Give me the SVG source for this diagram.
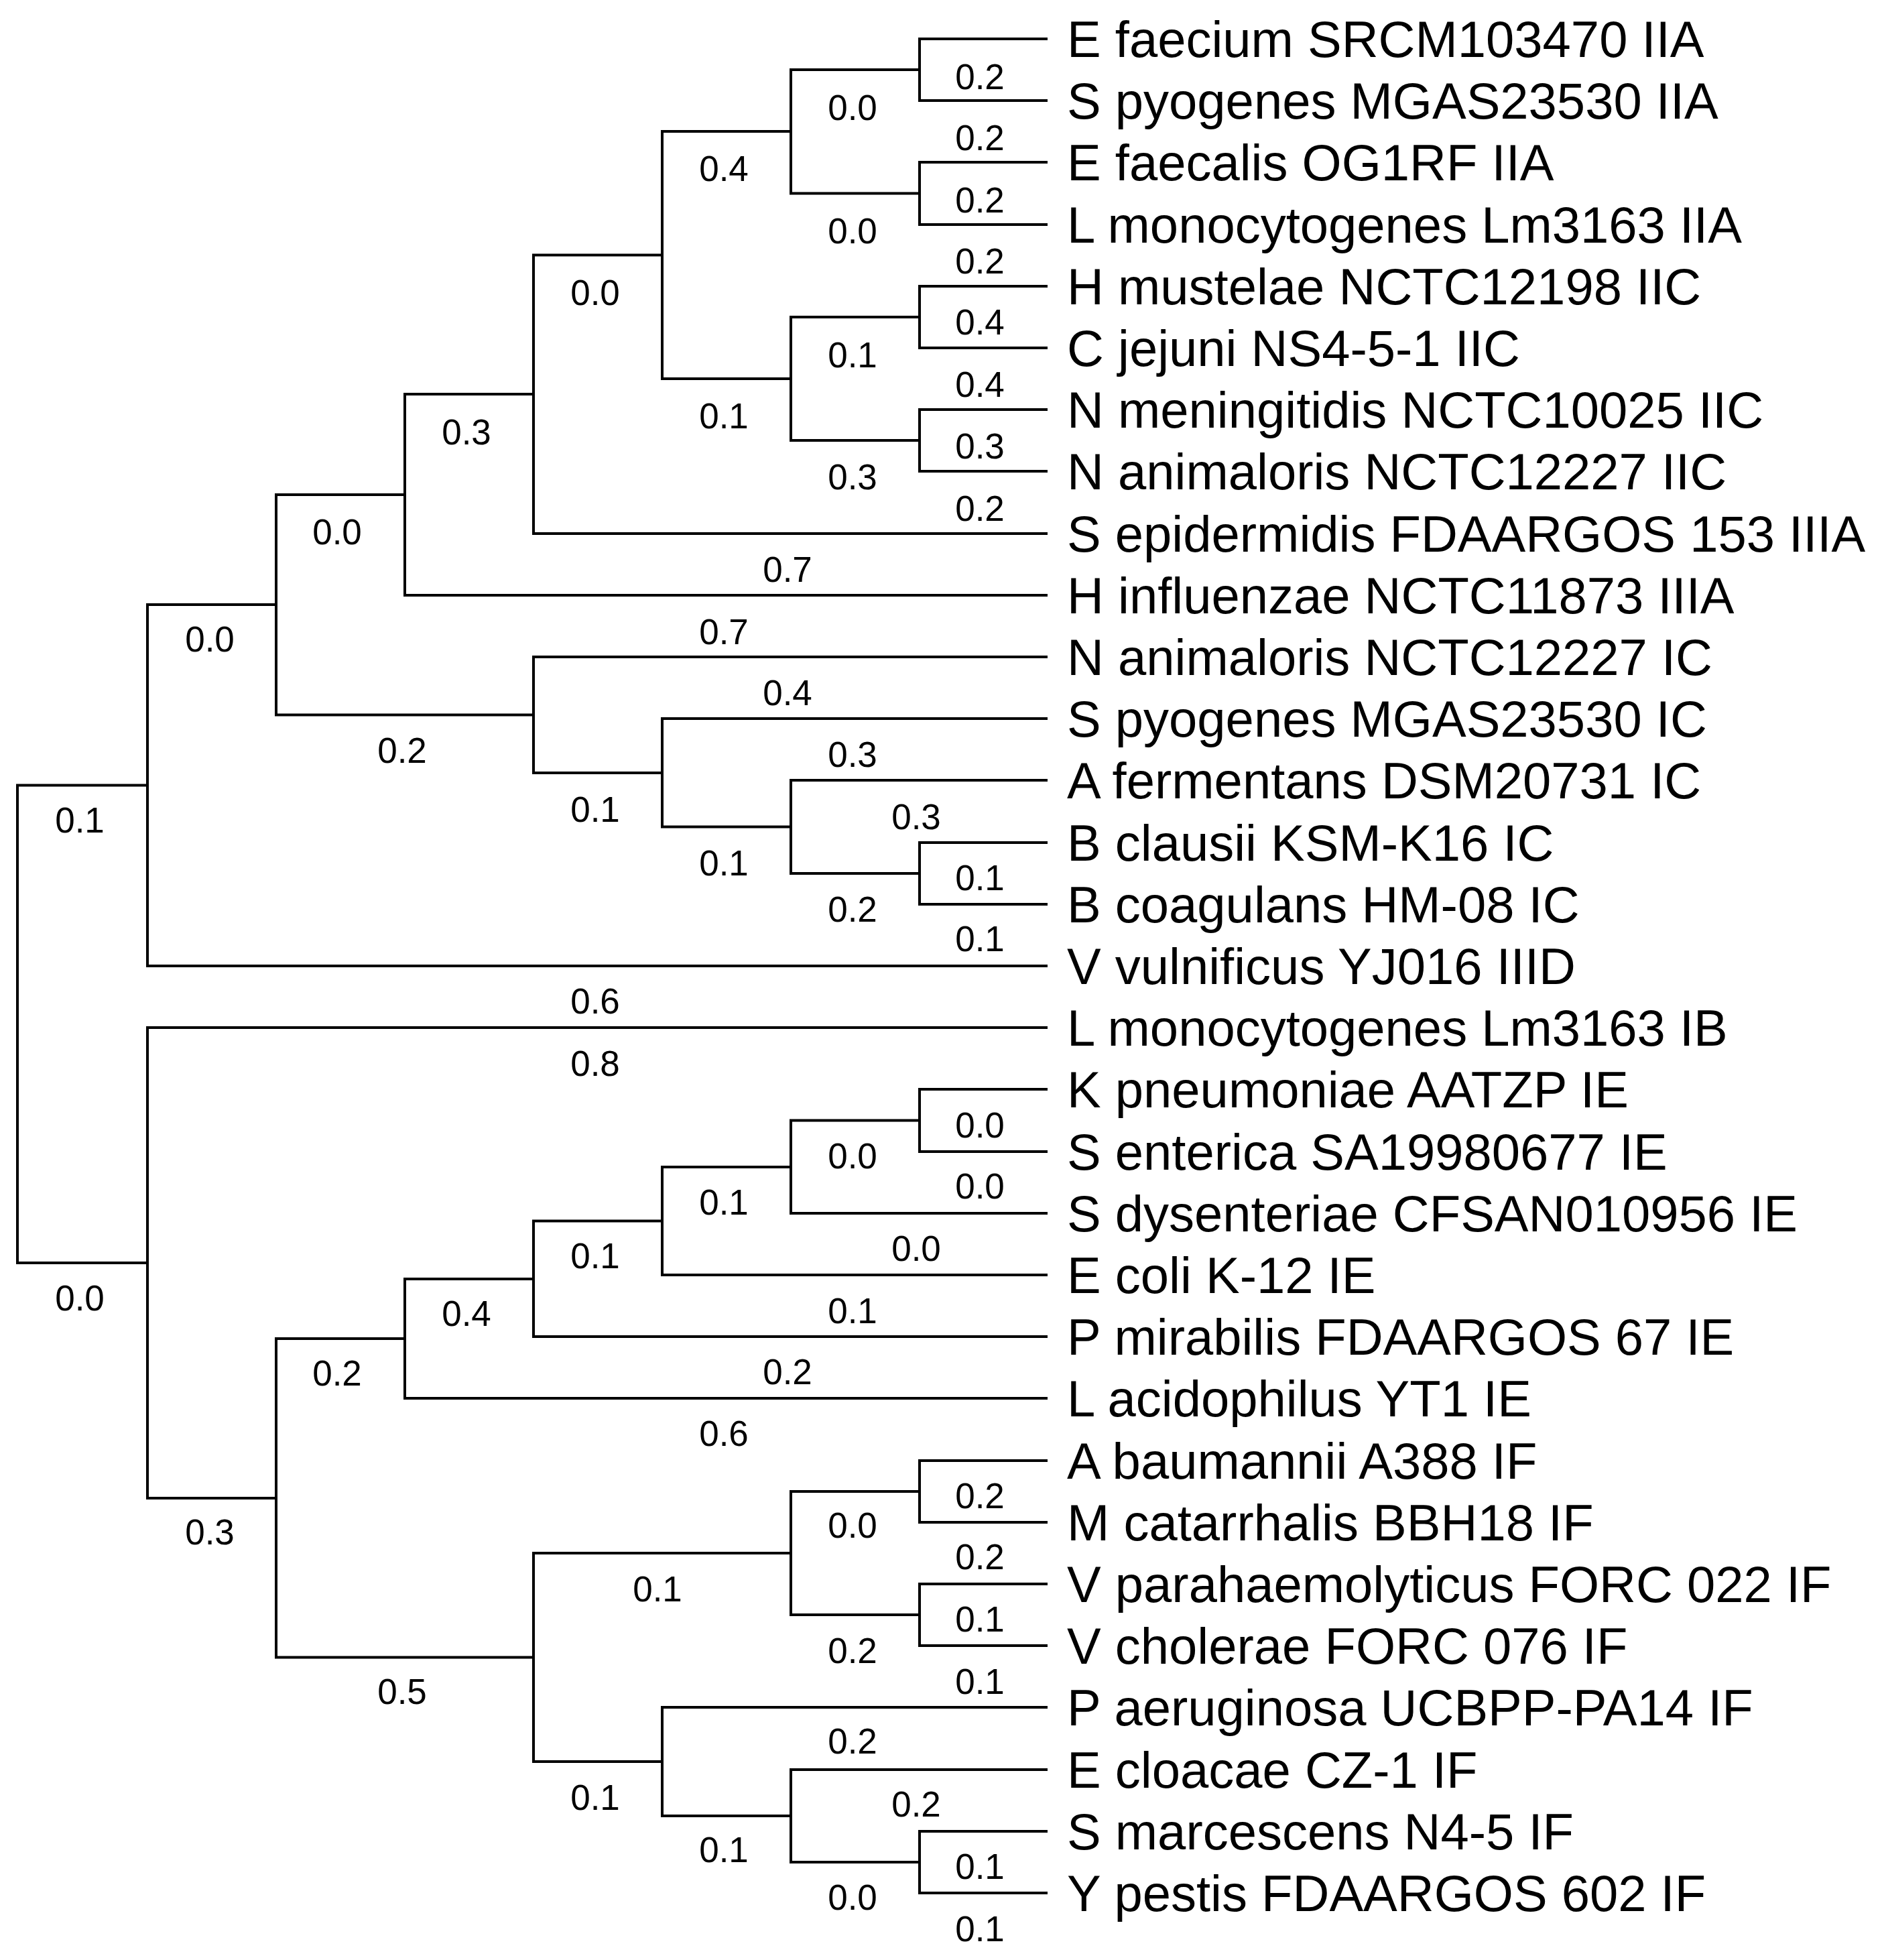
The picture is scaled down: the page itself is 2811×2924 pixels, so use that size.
<svg xmlns="http://www.w3.org/2000/svg" width="2811" height="2924" viewBox="0 0 2811 2924">
<style>
.e{fill:none;stroke:#000;stroke-width:4;stroke-linecap:square}
.n{font-family:"Liberation Sans",Arial,sans-serif;font-size:76px;fill:#000}
.l{font-family:"Liberation Sans",Arial,sans-serif;font-size:53px;fill:#000;text-anchor:middle}
</style>
<rect width="2811" height="2924" fill="#fff"/>
<g id="connectors">
<path class="e" d="M220 1171.5 H26 V1884 H220"/>
<path class="e" d="M412 902 H220 V1441 H1561"/>
<path class="e" d="M1561 1533 H220 V2235 H412"/>
<path class="e" d="M604 738 H412 V1066.5 H796"/>
<path class="e" d="M796 588 H604 V888 H1561"/>
<path class="e" d="M988 380.5 H796 V796 H1561"/>
<path class="e" d="M1180 196 H988 V565 H1180"/>
<path class="e" d="M1372 104 H1180 V288.5 H1372"/>
<path class="e" d="M1561 58 H1372 V150 H1561"/>
<path class="e" d="M1561 242 H1372 V335 H1561"/>
<path class="e" d="M1372 473 H1180 V657 H1372"/>
<path class="e" d="M1561 427 H1372 V519 H1561"/>
<path class="e" d="M1561 611 H1372 V703 H1561"/>
<path class="e" d="M1561 980 H796 V1153 H988"/>
<path class="e" d="M1561 1072 H988 V1233.5 H1180"/>
<path class="e" d="M1561 1164 H1180 V1303 H1372"/>
<path class="e" d="M1561 1257 H1372 V1349 H1561"/>
<path class="e" d="M604 1997 H412 V2472.5 H796"/>
<path class="e" d="M796 1908 H604 V2086 H1561"/>
<path class="e" d="M988 1821.5 H796 V1994 H1561"/>
<path class="e" d="M1180 1741 H988 V1902 H1561"/>
<path class="e" d="M1372 1671.5 H1180 V1810 H1561"/>
<path class="e" d="M1561 1625 H1372 V1718 H1561"/>
<path class="e" d="M1180 2317 H796 V2628 H988"/>
<path class="e" d="M1372 2225 H1180 V2409 H1372"/>
<path class="e" d="M1561 2179 H1372 V2271 H1561"/>
<path class="e" d="M1561 2363 H1372 V2455 H1561"/>
<path class="e" d="M1561 2547 H988 V2709 H1180"/>
<path class="e" d="M1561 2640 H1180 V2778 H1372"/>
<path class="e" d="M1561 2732 H1372 V2824 H1561"/>
</g>
<g id="edge-labels">
<text class="l" x="1462" y="133">0.2</text><text class="l" x="1272" y="179">0.0</text><text class="l" x="1462" y="224">0.2</text>
<text class="l" x="1080" y="270">0.4</text><text class="l" x="1462" y="317">0.2</text><text class="l" x="1272" y="363">0.0</text>
<text class="l" x="1462" y="408">0.2</text><text class="l" x="888" y="455">0.0</text><text class="l" x="1462" y="499">0.4</text>
<text class="l" x="1272" y="548">0.1</text><text class="l" x="1462" y="592">0.4</text><text class="l" x="1080" y="639">0.1</text>
<text class="l" x="1462" y="684">0.3</text><text class="l" x="696" y="663">0.3</text><text class="l" x="1272" y="730">0.3</text>
<text class="l" x="1462" y="777">0.2</text><text class="l" x="503" y="812">0.0</text><text class="l" x="1175" y="868">0.7</text>
<text class="l" x="1080" y="961">0.7</text><text class="l" x="313" y="972">0.0</text><text class="l" x="1175" y="1052">0.4</text>
<text class="l" x="600" y="1138">0.2</text><text class="l" x="1272" y="1144">0.3</text><text class="l" x="888" y="1226">0.1</text>
<text class="l" x="1367" y="1237">0.3</text><text class="l" x="119" y="1242">0.1</text><text class="l" x="1080" y="1306">0.1</text>
<text class="l" x="1462" y="1328">0.1</text><text class="l" x="1272" y="1375">0.2</text><text class="l" x="1462" y="1419">0.1</text>
<text class="l" x="888" y="1512">0.6</text><text class="l" x="888" y="1605">0.8</text><text class="l" x="1462" y="1697">0.0</text>
<text class="l" x="1272" y="1743">0.0</text><text class="l" x="1462" y="1788">0.0</text><text class="l" x="1080" y="1812">0.1</text>
<text class="l" x="1367" y="1881">0.0</text><text class="l" x="888" y="1892">0.1</text><text class="l" x="119" y="1955">0.0</text>
<text class="l" x="696" y="1978">0.4</text><text class="l" x="1272" y="1974">0.1</text><text class="l" x="503" y="2067">0.2</text>
<text class="l" x="1175" y="2065">0.2</text><text class="l" x="1080" y="2157">0.6</text><text class="l" x="1462" y="2250">0.2</text>
<text class="l" x="313" y="2304">0.3</text><text class="l" x="1272" y="2294">0.0</text><text class="l" x="1462" y="2341">0.2</text>
<text class="l" x="981" y="2389">0.1</text><text class="l" x="1462" y="2434">0.1</text><text class="l" x="1272" y="2481">0.2</text>
<text class="l" x="1462" y="2527">0.1</text><text class="l" x="600" y="2542">0.5</text><text class="l" x="1272" y="2616">0.2</text>
<text class="l" x="888" y="2700">0.1</text><text class="l" x="1367" y="2710">0.2</text><text class="l" x="1080" y="2778">0.1</text>
<text class="l" x="1462" y="2803">0.1</text><text class="l" x="1272" y="2849">0.0</text><text class="l" x="1462" y="2896">0.1</text>
</g>
<g id="leaves">
<text id="t0" class="n" x="1592" y="85">E faecium SRCM103470 IIA</text>
<text id="t1" class="n" x="1592" y="177">S pyogenes MGAS23530 IIA</text>
<text id="t2" class="n" x="1592" y="269">E faecalis OG1RF IIA</text>
<text id="t3" class="n" x="1592" y="362">L monocytogenes Lm3163 IIA</text>
<text id="t4" class="n" x="1592" y="454">H mustelae NCTC12198 IIC</text>
<text id="t5" class="n" x="1592" y="546">C jejuni NS4-5-1 IIC</text>
<text id="t6" class="n" x="1592" y="638">N meningitidis NCTC10025 IIC</text>
<text id="t7" class="n" x="1592" y="730">N animaloris NCTC12227 IIC</text>
<text id="t8" class="n" x="1592" y="823">S epidermidis FDAARGOS 153 IIIA</text>
<text id="t9" class="n" x="1592" y="915">H influenzae NCTC11873 IIIA</text>
<text id="t10" class="n" x="1592" y="1007">N animaloris NCTC12227 IC</text>
<text id="t11" class="n" x="1592" y="1099">S pyogenes MGAS23530 IC</text>
<text id="t12" class="n" x="1592" y="1191">A fermentans DSM20731 IC</text>
<text id="t13" class="n" x="1592" y="1284">B clausii KSM-K16 IC</text>
<text id="t14" class="n" x="1592" y="1376">B coagulans HM-08 IC</text>
<text id="t15" class="n" x="1592" y="1468">V vulnificus YJ016 IIID</text>
<text id="t16" class="n" x="1592" y="1560">L monocytogenes Lm3163 IB</text>
<text id="t17" class="n" x="1592" y="1652">K pneumoniae AATZP IE</text>
<text id="t18" class="n" x="1592" y="1745">S enterica SA19980677 IE</text>
<text id="t19" class="n" x="1592" y="1837">S dysenteriae CFSAN010956 IE</text>
<text id="t20" class="n" x="1592" y="1929">E coli K-12 IE</text>
<text id="t21" class="n" x="1592" y="2021">P mirabilis FDAARGOS 67 IE</text>
<text id="t22" class="n" x="1592" y="2113">L acidophilus YT1 IE</text>
<text id="t23" class="n" x="1592" y="2206">A baumannii A388 IF</text>
<text id="t24" class="n" x="1592" y="2298">M catarrhalis BBH18 IF</text>
<text id="t25" class="n" x="1592" y="2390">V parahaemolyticus FORC 022 IF</text>
<text id="t26" class="n" x="1592" y="2482">V cholerae FORC 076 IF</text>
<text id="t27" class="n" x="1592" y="2574">P aeruginosa UCBPP-PA14 IF</text>
<text id="t28" class="n" x="1592" y="2667">E cloacae CZ-1 IF</text>
<text id="t29" class="n" x="1592" y="2759">S marcescens N4-5 IF</text>
<text id="t30" class="n" x="1592" y="2851">Y pestis FDAARGOS 602 IF</text>
</g>
</svg>
